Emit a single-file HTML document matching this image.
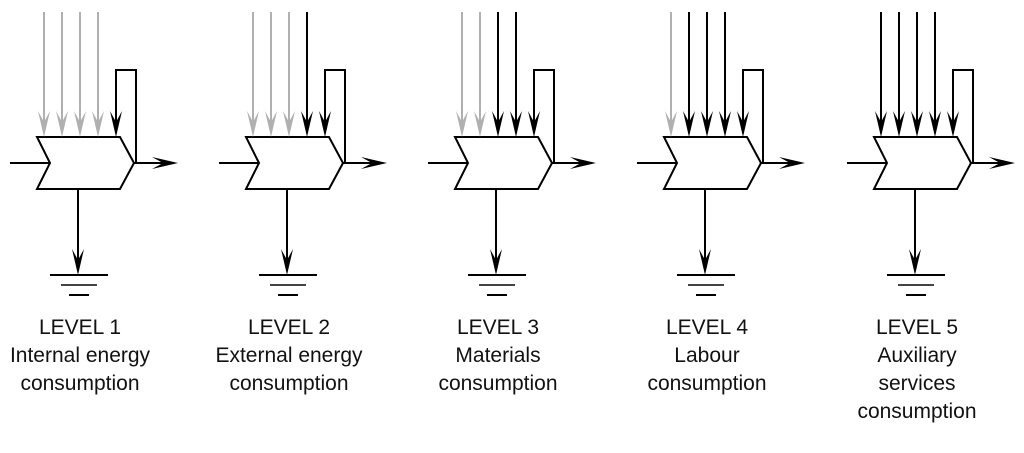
<!DOCTYPE html>
<html><head><style>
body{margin:0;background:#fff;}
svg{display:block;}
text{font-family:"Liberation Sans",sans-serif;font-size:21px;fill:#111;text-anchor:middle;}
</style></head><body>
<svg width="1024" height="453" viewBox="0 0 1024 453">
<defs>
<g id="vb"><line x1="0" y1="12" x2="0" y2="125" stroke="#000" stroke-width="2"/><path d="M0,137 L-6,111 L0,122 L6,111 Z" fill="#000"/></g>
<g id="vg"><line x1="0" y1="12" x2="0" y2="125" stroke="#b0b0b0" stroke-width="2"/><path d="M0,137 L-6,111 L0,122 L6,111 Z" fill="#b0b0b0"/></g>
<g id="base">
<path d="M116,125 L116,70 L136,70 L136,163" stroke="#000" fill="none" stroke-width="2"/>
<path d="M116,137 L110,111 L116,122 L122,111 Z" fill="#000"/>
<path d="M37,137 L120,137 L134,163 L120,189 L37,189 L50,163 Z" stroke="#000" fill="#fff" stroke-width="2"/>
<line x1="10" y1="163" x2="50" y2="163" stroke="#000" stroke-width="2"/>
<line x1="134" y1="163" x2="168" y2="163" stroke="#000" stroke-width="2"/>
<path d="M178,163 L152,157 L163,163 L152,169 Z" fill="#000"/>
<line x1="78" y1="189" x2="78" y2="265" stroke="#000" stroke-width="2"/>
<path d="M78,275 L72,249 L78,260 L84,249 Z" fill="#000"/>
<line x1="50" y1="275" x2="108" y2="275" stroke="#000" stroke-width="2"/>
<line x1="61" y1="285" x2="97" y2="285" stroke="#444" stroke-width="2"/>
<line x1="69" y1="295" x2="89" y2="295" stroke="#000" stroke-width="2"/>
</g>
</defs>

<g transform="translate(0,0)">
<use href="#base"/>
<use href="#vg" x="44"/><use href="#vg" x="62"/><use href="#vg" x="80"/><use href="#vg" x="98"/>
</g>
<g transform="translate(209,0)">
<use href="#base"/>
<use href="#vg" x="44"/><use href="#vg" x="62"/><use href="#vg" x="80"/><use href="#vb" x="98"/>
</g>
<g transform="translate(418,0)">
<use href="#base"/>
<use href="#vg" x="44"/><use href="#vg" x="62"/><use href="#vb" x="80"/><use href="#vb" x="98"/>
</g>
<g transform="translate(627,0)">
<use href="#base"/>
<use href="#vg" x="44"/><use href="#vb" x="62"/><use href="#vb" x="80"/><use href="#vb" x="98"/>
</g>
<g transform="translate(837,0)">
<use href="#base"/>
<use href="#vb" x="44"/><use href="#vb" x="62"/><use href="#vb" x="80"/><use href="#vb" x="98"/>
</g>

<text x="80" y="334">LEVEL 1</text>
<text x="80" y="362">Internal energy</text>
<text x="80" y="390">consumption</text>

<text x="289" y="334">LEVEL 2</text>
<text x="289" y="362">External energy</text>
<text x="289" y="390">consumption</text>

<text x="498" y="334">LEVEL 3</text>
<text x="498" y="362">Materials</text>
<text x="498" y="390">consumption</text>

<text x="707" y="334">LEVEL 4</text>
<text x="707" y="362">Labour</text>
<text x="707" y="390">consumption</text>

<text x="917" y="334">LEVEL 5</text>
<text x="917" y="362">Auxiliary</text>
<text x="917" y="390">services</text>
<text x="917" y="418">consumption</text>
</svg>
</body></html>
